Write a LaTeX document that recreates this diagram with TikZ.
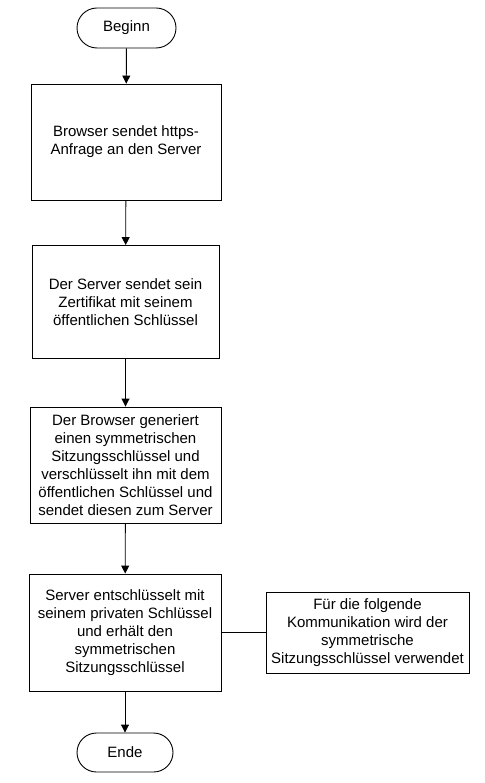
\documentclass[tikz,border=0pt]{standalone}
\usepackage{fontspec}
\setmainfont{Liberation Sans}
\usetikzlibrary{arrows.meta,shapes.misc}
\begin{document}
\begin{tikzpicture}[x=1pt,y=-1pt,
  every node/.style={font=\fontsize{15}{18}\selectfont, align=center, line width=0.9pt},
  stepbox/.style={draw, rectangle, inner sep=0pt},
  term/.style={draw, rounded rectangle, inner sep=0pt},
  arr/.style={-{Triangle[length=8pt,width=8pt]}, line width=0.9pt},
  ln/.style={line width=0.9pt}]
\useasboundingbox (0,0) rectangle (484,783);
\node[term, minimum width=99pt, minimum height=40pt] (b) at (126.5,28) {Beginn};
\node[stepbox, minimum width=190pt, minimum height=116pt] (s1) at (126,142) {Browser sendet https-\\Anfrage an den Server};
\node[stepbox, minimum width=187pt, minimum height=113pt] (s2) at (125.5,302) {Der Server sendet sein\\Zertifikat mit seinem\\öffentlichen Schlüssel};
\node[stepbox, minimum width=191pt, minimum height=116pt] (s3) at (125.5,465) {Der Browser generiert\\einen symmetrischen\\Sitzungsschlüssel und\\verschlüsselt ihn mit dem\\öffentlichen Schlüssel und\\sendet diesen zum Server};
\node[stepbox, minimum width=192pt, minimum height=117pt] (s4) at (125,632.5) {Server entschlüsselt mit\\seinem privaten Schlüssel\\und erhält den\\symmetrischen\\Sitzungsschlüssel};
\node[stepbox, minimum width=203pt, minimum height=81pt] (side) at (367.5,632.5) {Für die folgende\\Kommunikation wird der\\symmetrische\\Sitzungsschlüssel verwendet};
\node[term, minimum width=96pt, minimum height=39pt] (e) at (125,752.5) {Ende};
\draw[arr] (b) -- (s1);
\draw[arr] (s1) -- (s2);
\draw[arr] (s2) -- (s3);
\draw[arr] (s3) -- (s4);
\draw[arr] (s4) -- (e);
\draw[ln] (s4) -- (side);
\end{tikzpicture}
\end{document}
